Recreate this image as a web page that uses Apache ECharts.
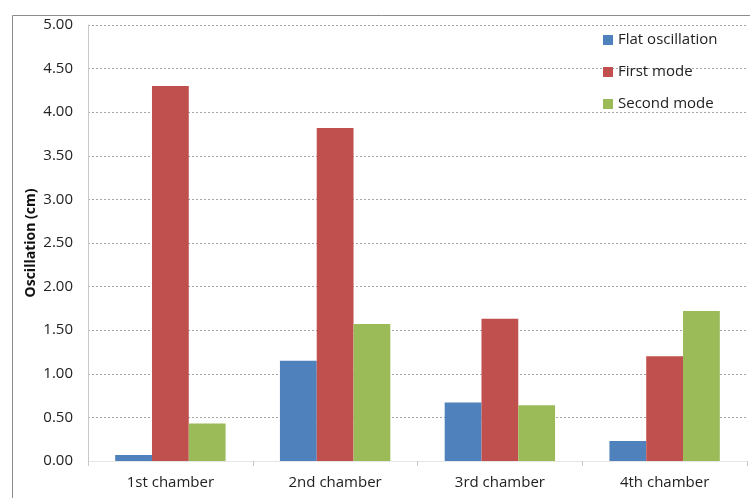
<!DOCTYPE html>
<html>
<head>
<meta charset="utf-8">
<script src="https://cdn.jsdelivr.net/npm/echarts@6/dist/echarts.min.js"></script>
<style>html,body{margin:0;padding:0;background:#fff}#c{width:750px;height:498px}</style>
</head>
<body>
<div id="c"></div>
<script>
const categories = ['1st chamber', '2nd chamber', '3rd chamber', '4th chamber'];
const flatOscillation = [0.07, 1.15, 0.67, 0.23];
const firstMode = [4.30, 3.82, 1.63, 1.20];
const secondMode = [0.43, 1.57, 0.64, 1.72];
const yTicks = [0, 0.5, 1, 1.5, 2, 2.5, 3, 3.5, 4, 4.5, 5];

const FONT = 'Open Sans';
const chart = echarts.init(document.getElementById('c'));
chart.setOption({
  animation: false,
  textStyle: { fontFamily: FONT },
  graphic: [{
    type: 'rect', left: 10, top: 13,
    shape: { width: 748, height: 500 },
    style: { fill: 'none', stroke: '#8c8c8c', lineWidth: 1 }, silent: true
  }],
  grid: { left: 88, right: 3, top: 25, bottom: 37 },
  legend: {
    orient: 'vertical', left: 598, top: 26, itemGap: 14,
    itemWidth: 10, itemHeight: 10, icon: 'rect',
    textStyle: { fontSize: 15, color: '#222', fontFamily: FONT, lineHeight: 18 },
    data: ['Flat oscillation', 'First mode', 'Second mode']
  },
  xAxis: {
    type: 'category', data: categories,
    axisLine: { show: true, lineStyle: { color: '#e6e6e6' } },
    axisTick: { show: true, length: 5, lineStyle: { color: '#c8c8c8' } },
    axisLabel: { fontSize: 15, color: '#222', margin: 14 }
  },
  yAxis: {
    type: 'value', min: yTicks[0], max: yTicks[yTicks.length - 1], interval: 0.5,
    name: 'Oscillation (cm)', nameLocation: 'middle', nameGap: 50, nameMoveOverlap: false,
    nameTextStyle: { fontSize: 14, fontWeight: 'bold', color: '#111' },
    axisLine: { show: true, lineStyle: { color: '#c8c8c8' } },
    axisTick: { show: false },
    axisLabel: { fontSize: 15, color: '#222', margin: 15, formatter: v => v.toFixed(2) },
    splitLine: { show: true, lineStyle: { color: '#a6a6a6', type: [2, 2], width: 1 } }
  },
  series: [
    { name: 'Flat oscillation', type: 'bar', data: flatOscillation, barGap: '0%', barCategoryGap: '33%',
      itemStyle: { color: '#4f81bd' } },
    { name: 'First mode', type: 'bar', data: firstMode,
      itemStyle: { color: '#c0504d' } },
    { name: 'Second mode', type: 'bar', data: secondMode,
      itemStyle: { color: '#9bbb59' } }
  ]
});
</script>
</body>
</html>
